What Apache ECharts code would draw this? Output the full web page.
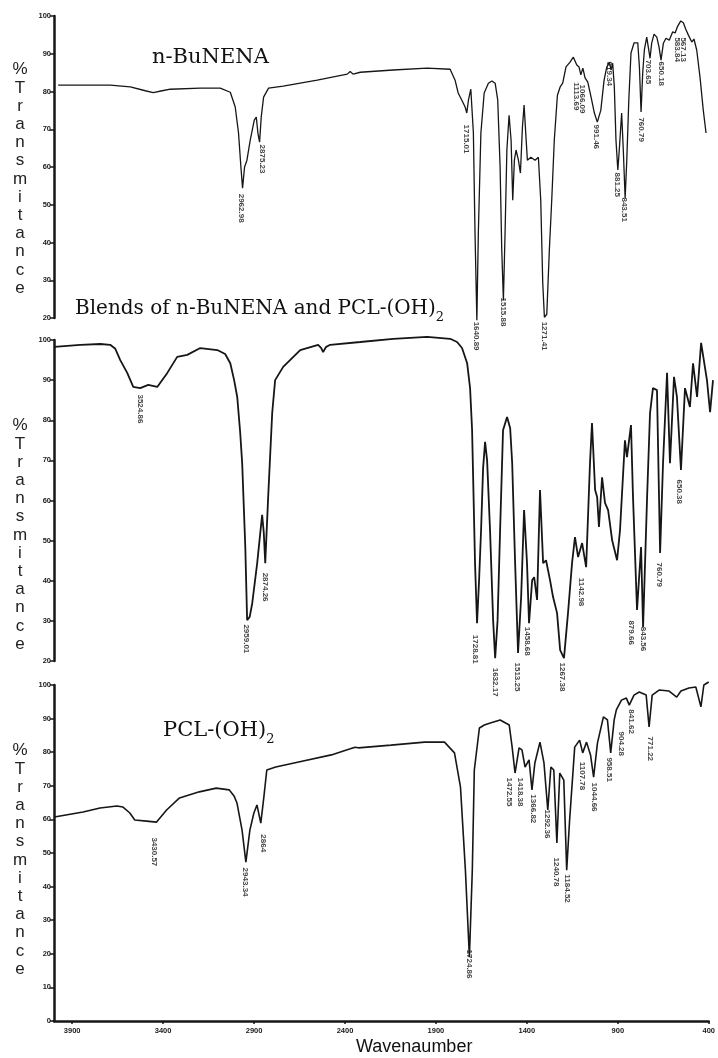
<!DOCTYPE html>
<html>
<head>
<meta charset="utf-8">
<script src="https://cdn.jsdelivr.net/npm/echarts@6/dist/echarts.min.js"></script>
<style>
html,body{margin:0;padding:0;background:#fff;}
#chart{width:718px;height:1058px;}
</style>
</head>
<body>
<div id="chart"></div>
<script>
// ---------- data ----------
const xTickValues = [3900, 3400, 2900, 2400, 1900, 1400, 900, 400];

// n-BuNENA
const nbuWave = [3977,3693,3583,3501,3458,3409,3365,3201,3092,3037,3010,2992,2979,2970,2959,2946,2928,2906,2895,2886,2877,2868,2855,2828,2748,2562,2398,2382,2366,2327,2147,1962,1836,1809,1792,1772,1754,1745,1736,1723,1709,1700,1690,1682,1668,1650,1627,1608,1590,1576,1563,1554,1545,1536,1526,1514,1503,1494,1485,1476,1463,1452,1441,1432,1423,1414,1395,1372,1354,1341,1330,1321,1308,1294,1281,1267,1250,1235,1221,1203,1181,1163,1144,1132,1122,1111,1099,1084,1066,1048,1032,1013,995,980,966,957,948,939,930,920,912,899,890,880,871,860,848,831,811,802,793,784,775,762,751,744,735,722,707,695,684,671,657,639,620,607,595,576,562,547,535,516,504,489,471,453,438];
const nbuT = [81.7,81.7,81.2,80.2,79.7,80.2,80.6,80.9,80.9,79.8,75.9,69,60,54.4,60,61.8,67.1,72.4,73.2,69,66.6,73.2,78.5,80.9,81.4,83,84.6,85.3,84.6,85.1,85.7,86.2,85.9,83,79.6,77.7,75.9,74.3,77.7,80.6,69,42.4,19.4,42.4,69,79.6,82.2,82.8,82.2,77.7,60,38,24.7,42.4,64.5,73.7,67.1,51.2,61.8,64.5,61.8,58.4,70.6,76.4,69,61.8,62.6,61.8,62.6,51.2,29.2,20.2,21,38,51.2,67.1,79,81.2,82.2,86.5,87.8,89.1,87,86.5,84.4,86.2,83.6,82.5,78.5,74.3,71.9,75,83,86.5,87.8,85.7,87.5,81.2,67.1,59.2,64.5,74.3,64.5,51.7,61.8,77.7,90.2,92.9,92.9,86.5,74.6,84.9,91,94.4,91,88.8,92.8,95.2,94.4,91.8,88.3,92.8,94.1,93.6,95.8,95.5,97.1,98.7,98.2,96.3,95,93.1,93.9,91,83.8,75,69];
const nbuPeaks = [[2977,52.8,'2962.98'],[2862,65.8,'2875.23'],[1748,71.1,'1715.01'],[1690,18.9,'1640.89'],[1545,25.3,'1515.88'],[1321,18.9,'1271.41'],[1144,82.3,'1113.69'],[1111,81.7,'1066.09'],[1033,71.1,'991.46'],[963,87.8,'919.34'],[920,58.4,'881.25'],[880,51.8,'843.51'],[787,73,'760.79'],[751,88.3,'703.65'],[680,87.8,'650.18'],[591,94.2,'583.84'],[558,94.2,'567.13']];

// Blend
const blendWave = [3998,3856,3747,3693,3665,3638,3600,3567,3529,3485,3436,3381,3327,3272,3201,3108,3065,3037,3016,2999,2983,2972,2955,2945,2931,2917,2890,2863,2854,2846,2830,2808,2792,2748,2655,2557,2540,2530,2513,2491,2327,2147,1962,1836,1798,1771,1743,1727,1716,1700,1689,1678,1667,1656,1645,1634,1618,1601,1590,1577,1563,1547,1525,1508,1497,1481,1465,1448,1432,1416,1405,1388,1377,1361,1345,1328,1312,1290,1274,1252,1235,1214,1192,1170,1154,1137,1115,1093,1072,1061,1044,1033,1023,1006,990,973,951,924,908,881,870,848,837,815,793,782,760,744,728,706,689,673,651,635,613,597,575,553,526,509,487,465,433,416,400];
const blendT = [98.3,98.8,99,98.8,97.8,95,91.8,88.3,88,88.8,88.3,91.8,95.8,96.3,98,97.5,96.5,94.2,90,85.8,77,69.3,48.4,30.2,31,34.4,44.4,56.4,52,44.4,60.9,81.8,90,93.3,97.5,98.8,98,97,98.3,98.8,99.5,100.3,100.8,100.3,99.5,98,94.2,88,77.5,44.4,29.4,40,52.6,68,74.6,70,52.6,30,20.7,30,52.6,77.5,80.8,78,69.3,44.4,22,36,57.6,44.4,29.4,40.1,40.9,35.2,62.6,44.4,45.1,40.1,36,32,22.7,20.7,32,44.4,50.9,45.9,49.4,43.4,69.3,79.3,62.6,60.9,53.4,65.8,59.4,57.6,50.1,45.1,52.6,75,70.8,78.8,60.9,32.7,48.4,28.4,60.9,81.8,88,87.5,46.9,69.3,91.8,69.3,90.8,85.8,67.6,88,83.3,94.2,85.8,99.3,90,82,90];
const blendPeaks = [[3524,86.3,'3524.86'],[2950,29,'2959.01'],[2842,41.9,'2874.26'],[1694,26.4,'1728.81'],[1588,18.2,'1632.17'],[1465,19.5,'1513.25'],[1410,28.4,'1458.68'],[1219,19.5,'1267.38'],[1115,40.6,'1142.98'],[842,30,'879.66'],[777,28.4,'843.56'],[689,44.4,'760.79'],[580,65.1,'650.38']];

// PCL-(OH)2
const pclWave = [3998,3840,3747,3654,3622,3583,3556,3491,3436,3381,3310,3201,3108,3037,3010,2994,2966,2945,2923,2901,2884,2863,2846,2830,2781,2655,2475,2371,2344,2327,2147,1962,1853,1798,1765,1738,1716,1700,1689,1661,1634,1601,1547,1497,1481,1465,1443,1427,1410,1388,1372,1356,1328,1306,1285,1268,1252,1235,1219,1197,1181,1165,1137,1110,1093,1072,1050,1033,1012,979,957,939,920,908,880,853,837,811,782,744,728,711,673,618,576,553,509,471,443,427,400];
const pclT = [60.7,62.2,63.4,64,63.7,61.9,59.8,59.5,59.2,62.8,66.4,68.2,69.3,68.8,67,64.9,56.8,47.3,56.8,61.9,64.3,58.9,66.7,74.7,75.6,77.1,79.2,81,81.5,81.3,82.1,83,83,79.8,69.6,44.9,19,44.9,74.7,87.2,88.1,88.7,89.6,88.1,81.5,73.8,81.3,80.7,75.6,77.7,68.8,76.8,83,76.8,62.8,75.6,74.7,53,73.8,71.7,44.9,59.8,81.5,83.6,79.8,83,79.2,72.6,82.7,90.5,89.6,79.8,89.6,92.6,95.5,96.1,94,97,97.9,97,87.5,97,98.5,98.2,96.4,98.2,99.1,99.4,93.5,100,100.9];
const pclPeaks = [[3446,54.5,'3430.57'],[2944,45.5,'2943.34'],[2846,55.4,'2864'],[1716,21.1,'1724.86'],[1497,72.3,'1472.55'],[1432,72.3,'1418.38'],[1361,67.3,'1366.82'],[1285,62.8,'1292.36'],[1235,48.5,'1240.78'],[1175,43.5,'1184.52'],[1093,77,'1107.78'],[1027,70.8,'1044.66'],[945,78.3,'958.51'],[880,86,'904.28'],[826,92.6,'841.62'],[717,84.5,'771.22']];

// ---------- chart ----------
const zip = (a, b) => a.map((v, i) => [v, b[i]]);
const chart = echarts.init(document.getElementById('chart'), null, {renderer: 'canvas'});

const grids = [
  {left: 54, right: 5, top: 16, height: 302},
  {left: 54, right: 5, top: 340, height: 321},
  {left: 54, right: 5, top: 685, height: 336}
];
const ink = '#161616';

const xAxes = grids.map((g, i) => ({
  type: 'value', gridIndex: i, min: 400, max: 4000, inverse: true,
  show: i === 2,
  axisLine: {show: true, onZero: false, lineStyle: {color: ink, width: 2.5}},
  axisTick: {show: true, customValues: xTickValues, length: 3, lineStyle: {color: ink, width: 1.5}},
  axisLabel: {customValues: xTickValues, formatter: v => String(v), fontSize: 7.5, fontWeight: 'bold', color: '#1a1a1a', margin: 6, fontFamily: 'Liberation Sans'},
  splitLine: {show: false}
}));
const yAxes = grids.map((g, i) => ({
  type: 'value', gridIndex: i, min: i < 2 ? 20 : 0, max: 100, interval: 10,
  axisLine: {show: true, onZero: false, lineStyle: {color: ink, width: 2.5}},
  axisTick: {show: true, length: 4, lineStyle: {color: ink, width: 1.5}},
  axisLabel: {formatter: v => String(v), fontSize: 7.5, fontWeight: 'bold', color: '#1a1a1a', margin: 3, fontFamily: 'Liberation Sans'},
  splitLine: {show: false}
}));

function lineSeries(i, wave, t, w) {
  return {
    type: 'line', xAxisIndex: i, yAxisIndex: i, data: zip(wave, t),
    showSymbol: false, clip: false, smooth: false,
    lineStyle: {color: ink, width: w}, silent: true
  };
}
function peakSeries(i, peaks) {
  return {
    type: 'scatter', xAxisIndex: i, yAxisIndex: i, data: peaks,
    symbol: 'circle', symbolSize: 1, itemStyle: {color: 'rgba(0,0,0,0)'},
    clip: false, silent: true,
    label: {
      show: true, formatter: p => p.data[2], position: [0, 0], rotate: -90,
      align: 'left', verticalAlign: 'middle', fontSize: 8, fontWeight: 'bold',
      color: '#111', fontFamily: 'Liberation Sans'
    }
  };
}

const vText = '%\nT\nr\na\nn\ns\nm\ni\nt\na\nn\nc\ne';
function vLabel(cy) {
  return {type: 'text', x: 20, y: cy, silent: true,
    style: {text: vText, font: '17px "Liberation Sans"', fill: '#222', align: 'center', verticalAlign: 'middle', lineHeight: 18.2}};
}
function title(x, cy, text, size) {
  return {type: 'text', x: x, y: cy, silent: true,
    style: {text: text, font: size + 'px "DejaVu Serif"', fill: '#111', align: 'left', verticalAlign: 'middle', lineHeight: 30,
      rich: {s: {fontSize: 13, fontFamily: 'DejaVu Serif', verticalAlign: 'bottom', fill: '#111'}}}};
}

chart.setOption({
  backgroundColor: '#fff',
  animation: false,
  grid: grids,
  xAxis: xAxes,
  yAxis: yAxes,
  series: [
    lineSeries(0, nbuWave, nbuT, 1.3),
    lineSeries(1, blendWave, blendT, 1.8),
    lineSeries(2, pclWave, pclT, 1.6),
    peakSeries(0, nbuPeaks),
    peakSeries(1, blendPeaks),
    peakSeries(2, pclPeaks)
  ],
  graphic: [
    vLabel(179), vLabel(535), vLabel(860),
    title(152, 58, 'n-BuNENA', 21),
    title(75, 309, 'Blends of n-BuNENA and PCL-(OH){s|2}', 20),
    title(163, 731, 'PCL-(OH){s|2}', 21),
    {type: 'text', x: 356, y: 1047, silent: true,
      style: {text: 'Wavenaumber', font: '18px "Liberation Sans"', fill: '#111', align: 'left', verticalAlign: 'middle'}}
  ]
});
</script>
</body>
</html>
